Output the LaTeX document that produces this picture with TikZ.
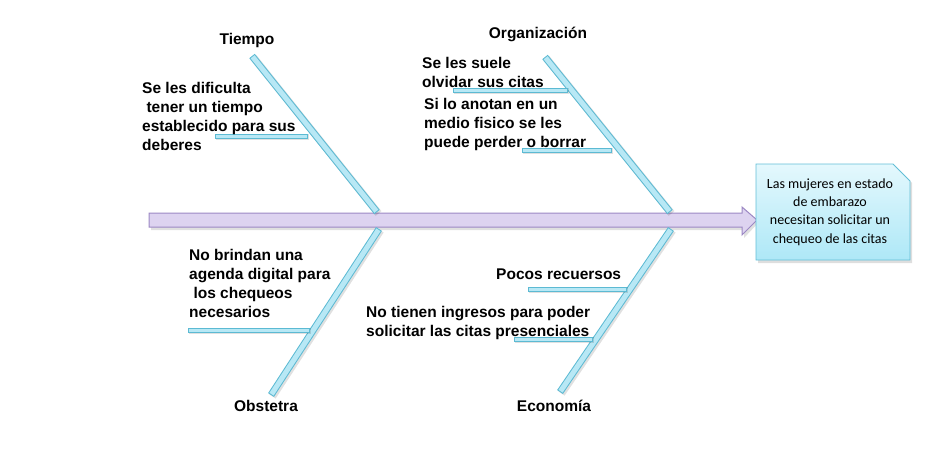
\documentclass[tikz,border=0pt]{standalone}
\usepackage{fontspec}
\setmainfont{Liberation Sans}
\newfontfamily\calibri{Carlito}
\definecolor{bonefill}{HTML}{B8E8F5}
\definecolor{bonedraw}{HTML}{5CBAD3}
\definecolor{spinefill}{HTML}{DDD3F0}
\definecolor{spinedraw}{HTML}{9C88C4}
\definecolor{boxtop}{HTML}{E4F8FD}
\definecolor{boxbot}{HTML}{AEE8F7}
\definecolor{boxdraw}{HTML}{62BED6}
\begin{document}
\begin{tikzpicture}[x=1pt,y=-1pt,
  boneshadow/.style={line width=7.5pt, draw=black, opacity=0.12},
  boneout/.style={line width=7pt, draw=bonedraw},
  bonein/.style={line width=5pt, draw=bonefill, shorten >=1pt, shorten <=1pt},
  subout/.style={line width=5pt, draw=bonedraw},
  subin/.style={line width=3pt, draw=bonefill, shorten >=1pt, shorten <=1pt},
  lbl/.style={font=\bfseries\fontsize{15.5}{19}\selectfont, inner sep=0pt, text depth=0pt},
  txt/.style={font=\bfseries\fontsize{15.5}{19}\selectfont, inner sep=0pt, align=left, anchor=north west},
  res/.style={font=\calibri\fontsize{14}{18.2}\selectfont, inner sep=0pt, align=center}]
\useasboundingbox (0,0) rectangle (944,455);

% spine arrow
\coordinate (s0) at (149,220);
\path[fill=black, opacity=0.12]
  (151,215) -- (744,215) -- (744,209) -- (759,222) -- (744,238) -- (744,230) -- (151,230) -- cycle;
\draw[fill=spinefill, draw=spinedraw, line width=1pt]
  (149,213) -- (742,213) -- (742,207) -- (757,220) -- (742,235) -- (742,227) -- (149,227) -- cycle;

% result box
\path[fill=black, opacity=0.13]
  (758,166) -- (895,166) -- (912,183) -- (912,263) -- (758,263) -- cycle;
\draw[top color=boxtop, bottom color=boxbot, draw=boxdraw, line width=0.8pt]
  (756,164) -- (893,164) -- (910,181) -- (910,260) -- (756,260) -- cycle;
\node[res] (res) at (830,212) {Las mujeres en estado\\de embarazo\\necesitan solicitar un\\chequeo de las citas};

% bone endpoints
\coordinate (t1) at (252,56);  \coordinate (t2) at (377,212);
\coordinate (o1) at (545,57);  \coordinate (o2) at (670,212);
\coordinate (b1) at (379,229); \coordinate (b2) at (271,395);
\coordinate (e1) at (671,229); \coordinate (e2) at (560,392);
% sub-bone endpoints
\coordinate (ts1) at (215,136); \coordinate (ts2) at (308,136);
\coordinate (os1) at (453,90);  \coordinate (os2) at (568,90);
\coordinate (os3) at (522,150); \coordinate (os4) at (612,150);
\coordinate (bs1) at (188,330); \coordinate (bs2) at (310,330);
\coordinate (es1) at (528,289); \coordinate (es2) at (627,289);
\coordinate (es3) at (514,339); \coordinate (es4) at (593,339);

\foreach \a/\b in {t1/t2,o1/o2,b1/b2,e1/e2}{
  \draw[boneshadow, transform canvas={xshift=1.5pt,yshift=-1.5pt}] (\a) -- (\b);
  \draw[boneout] (\a) -- (\b);
  \draw[bonein] (\a) -- (\b);
}
\foreach \a/\b in {ts1/ts2,os1/os2,os3/os4,bs1/bs2,es1/es2,es3/es4}{
  \draw[boneshadow, line width=5.5pt, transform canvas={xshift=1.2pt,yshift=-1.2pt}] (\a) -- (\b);
  \draw[subout] (\a) -- (\b);
  \draw[subin] (\a) -- (\b);
}

% labels
\node[lbl, anchor=north] (tiempo) at (247,33) {Tiempo};
\node[lbl, anchor=north] (org) at (538,27) {Organización};
\node[lbl, anchor=north] (obs) at (266,400) {Obstetra};
\node[lbl, anchor=north] (eco) at (554,400) {Economía};

% cause texts
\node[txt] (tc) at (142,82) {Se les dificulta\\\ tener un tiempo\\establecido para sus\\deberes};
\node[txt] (oc1) at (422,57) {Se les suele\\olvidar sus citas};
\node[txt] (oc2) at (424,98) {Si lo anotan en un\\medio fisico se les\\puede perder o borrar};
\node[txt] (bc) at (189,249) {No brindan una\\agenda digital para\\\ los chequeos\\necesarios};
\node[txt] (ec1) at (496,269) {Pocos recuersos};
\node[txt] (ec2) at (366,306) {No tienen ingresos para poder\\solicitar las citas presenciales};
\end{tikzpicture}
\end{document}
